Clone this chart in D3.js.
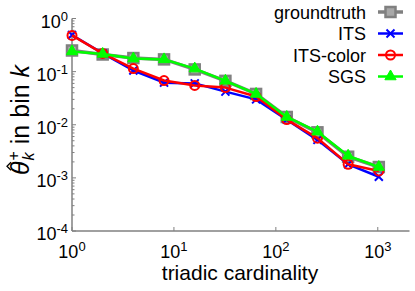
<!DOCTYPE html>
<html>
<head>
<meta charset="utf-8">
<script src="https://cdn.jsdelivr.net/npm/d3@7"></script>
<style>
  html, body { margin: 0; padding: 0; background: #fff; }
  text { font-family: "Liberation Sans", Arial, sans-serif; fill: #000; }
</style>
</head>
<body>
<svg id="chart" width="415" height="291"></svg>
<script>
// triadic cardinality bins (powers of two)
var bins = [1, 2, 4, 8, 16, 32, 64, 128, 256, 512, 1024];
var groundtruth = [0.25, 0.21, 0.18, 0.17, 0.11, 0.067, 0.038, 0.014, 0.0072, 0.0025, 0.0016];
var its = [0.49, 0.22, 0.105, 0.062, 0.06, 0.042, 0.030, 0.0125, 0.0052, 0.0018, 0.00105];
var itsColor = [0.48, 0.22, 0.114, 0.068, 0.055, 0.05, 0.034, 0.0125, 0.0056, 0.0018, 0.00135];
var sgs = [0.24, 0.215, 0.176, 0.17, 0.114, 0.067, 0.038, 0.014, 0.0074, 0.0026, 0.0016];
var xTickVals = [1, 10, 100, 1000];
var yTickVals = [1e-4, 1e-3, 1e-2, 1e-1, 1];
var xTickExp = ["0", "1", "2", "3"];
var yTickExp = ["-4", "-3", "-2", "-1", "0"];
var seriesNames = ["groundtruth", "ITS", "ITS-color", "SGS"];

var series = [
  { name: seriesNames[0], values: groundtruth, color: "#808080", marker: "square" },
  { name: seriesNames[1], values: its, color: "#0000ff", marker: "cross" },
  { name: seriesNames[2], values: itsColor, color: "#ff0000", marker: "circle" },
  { name: seriesNames[3], values: sgs, color: "#00ff00", marker: "triangle" }
];

var svg = d3.select("#chart");
var axisColor = "#808080";

var x = d3.scaleLog().domain([1, 2048]).range([72, 409.5]);
var y = d3.scaleLog().domain([1e-4, 1]).range([231, 18.5]);

var g = svg.append("g");

// axes lines
g.append("line").attr("x1", x.range()[0]).attr("x2", x.range()[1])
  .attr("y1", y(1e-4)).attr("y2", y(1e-4))
  .attr("stroke", axisColor).attr("stroke-width", 1.5);
g.append("line").attr("x1", x(1)).attr("x2", x(1))
  .attr("y1", y.range()[0]).attr("y2", y.range()[1])
  .attr("stroke", axisColor).attr("stroke-width", 1.5);

// x ticks (major only, inward)
xTickVals.forEach(function (v, i) {
  g.append("line").attr("x1", x(v)).attr("x2", x(v))
    .attr("y1", y(1e-4)).attr("y2", y(1e-4) - 4)
    .attr("stroke", axisColor).attr("stroke-width", 1);
  var t = g.append("text").attr("x", x(v)).attr("y", 257.5)
    .attr("text-anchor", "middle").attr("font-size", 18);
  t.append("tspan").text("10");
  t.append("tspan").attr("dy", -7).attr("font-size", 13).text(xTickExp[i]);
});

// y ticks, with minor ticks
y.ticks().forEach(function (v) {
  var major = yTickVals.indexOf(v) >= 0;
  g.append("line").attr("x1", x(1)).attr("x2", x(1) + (major ? 4 : 2.5))
    .attr("y1", y(v)).attr("y2", y(v))
    .attr("stroke", axisColor).attr("stroke-width", 1);
});
yTickVals.forEach(function (v, i) {
  var t = g.append("text").attr("x", 68).attr("y", y(v) + 9)
    .attr("text-anchor", "end").attr("font-size", 18);
  t.append("tspan").text("10");
  t.append("tspan").attr("dy", -7).attr("font-size", 13).text(yTickExp[i]);
});

// axis titles
g.append("text").attr("x", 240).attr("y", 279.5).attr("text-anchor", "middle")
  .attr("font-size", 21).text("triadic cardinality");

// y label: theta-hat with sub k and sup +, then " in bin k"
var lab = g.append("g").attr("transform", "translate(29,120) rotate(-90)");
var theta = lab.append("text").attr("font-size", 25).attr("font-style", "italic").text("\u03B8");
var wT = theta.node().getComputedTextLength();
var sub = lab.append("text").attr("font-size", 16).attr("font-style", "italic").attr("y", 5).text("k");
var sup = lab.append("text").attr("font-size", 16).attr("y", -10).text("+");
var wS = Math.max(sub.node().getComputedTextLength(), sup.node().getComputedTextLength());
var rest = lab.append("text").attr("font-size", 25).text("\u00A0in bin ");
rest.append("tspan").attr("font-style", "italic").text("k");
var wR = rest.node().getComputedTextLength();
var start = -(wT + 1 + wS + wR) / 2;
theta.attr("x", start);
sub.attr("x", start + wT + 1);
sup.attr("x", start + wT + 1);
rest.attr("x", start + wT + 1 + wS);
var hx = start + wT / 2 + 2;
lab.append("path").attr("d", "M" + (hx - 4) + ",-18L" + hx + ",-22L" + (hx + 4) + ",-18")
  .attr("fill", "none").attr("stroke", "#000").attr("stroke-width", 1.3);

function drawMarker(sel, type, color) {
  if (type === "square") {
    sel.append("rect").attr("x", -5).attr("y", -5).attr("width", 10).attr("height", 10)
      .attr("fill", "#a8a8a8").attr("stroke", color).attr("stroke-width", 2.5);
  } else if (type === "cross") {
    sel.append("path").attr("d", "M-4,-4L4,4M-4,4L4,-4")
      .attr("stroke", color).attr("stroke-width", 2).attr("fill", "none");
  } else if (type === "circle") {
    sel.append("circle").attr("r", 4.5).attr("fill", "none")
      .attr("stroke", color).attr("stroke-width", 2);
  } else if (type === "triangle") {
    sel.append("path").attr("d", d3.symbol(d3.symbolTriangle, 55)())
      .attr("fill", color).attr("stroke", color).attr("stroke-width", 1);
  }
}

var line = d3.line().x(function (d) { return x(d[0]); }).y(function (d) { return y(d[1]); });

series.forEach(function (s) {
  var pts = bins.map(function (b, i) { return [b, s.values[i]]; });
  g.append("path").datum(pts).attr("d", line).attr("fill", "none")
    .attr("stroke", s.color).attr("stroke-width", s.marker === "square" ? 3.5 : 2.5)
    .attr("stroke-linejoin", "round");
  pts.forEach(function (p) {
    var m = g.append("g").attr("transform", "translate(" + x(p[0]) + "," + y(p[1]) + ")");
    drawMarker(m, s.marker, s.color);
  });
});

// legend
var legendY = [12, 33.5, 55, 76.5];
series.forEach(function (s, i) {
  var ly = legendY[i];
  g.append("text").attr("x", 366).attr("y", ly + 6.5).attr("text-anchor", "end")
    .attr("font-size", 18).text(s.name);
  g.append("line").attr("x1", 378).attr("x2", 403).attr("y1", ly).attr("y2", ly)
    .attr("stroke", s.color).attr("stroke-width", s.marker === "square" ? 3.5 : 2.5);
  var m = g.append("g").attr("transform", "translate(390.5," + ly + ")");
  drawMarker(m, s.marker, s.color);
});
</script>
</body>
</html>
